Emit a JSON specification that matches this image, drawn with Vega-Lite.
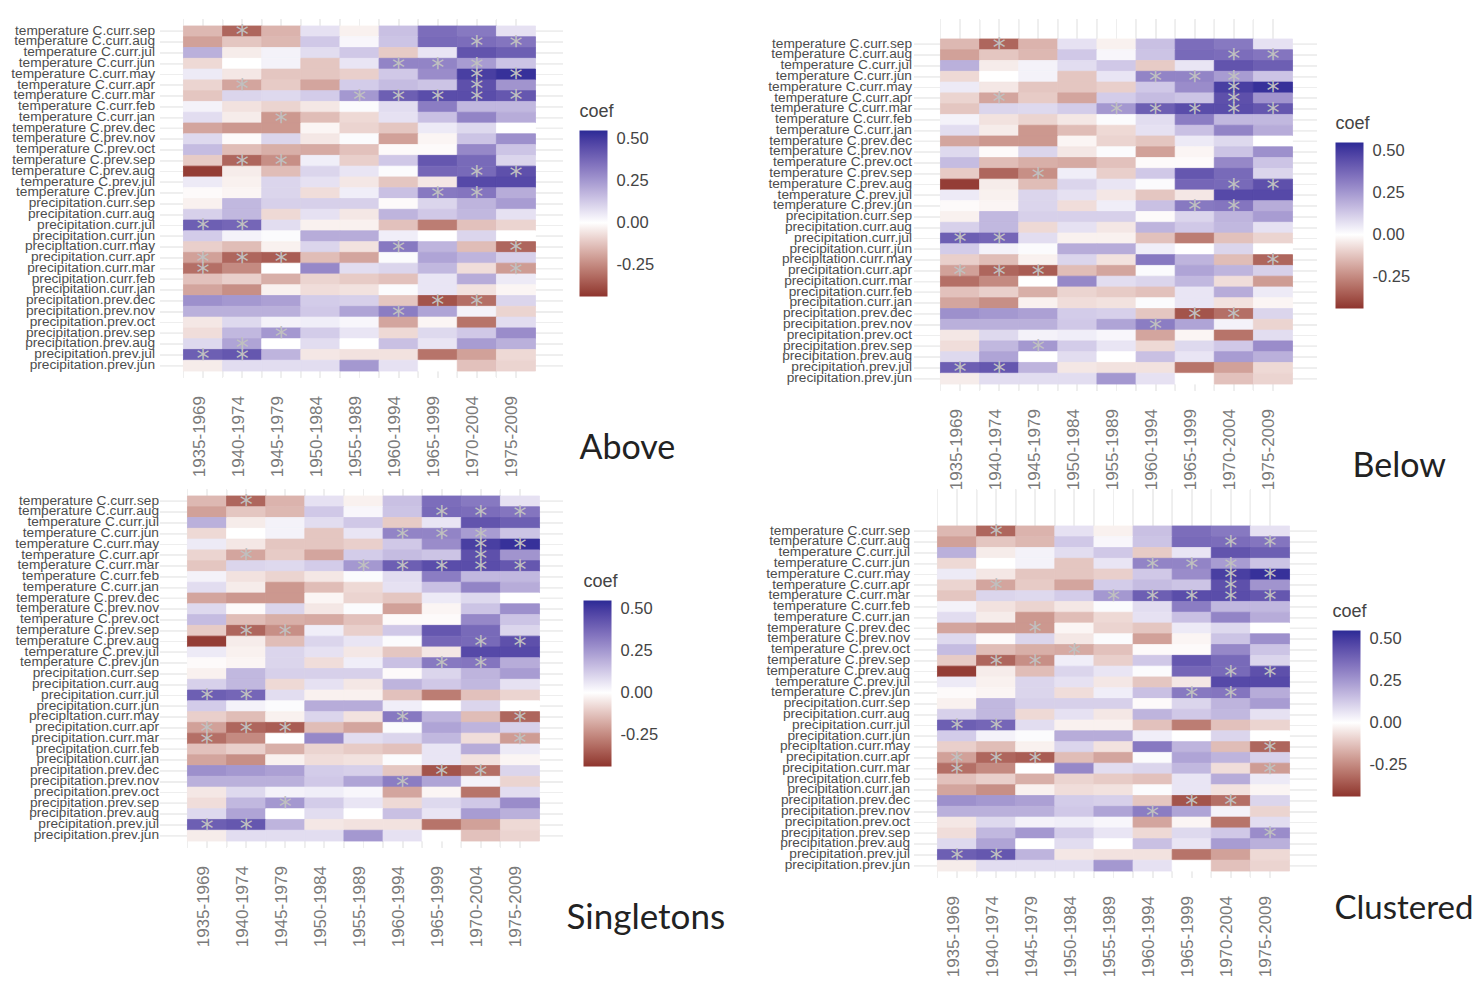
{"$schema":"https://vega.github.io/schema/vega-lite/v6.json","background":"white","padding":{"left":10,"top":18.5,"right":0,"bottom":0},"bounds":"flush","columns":2,"spacing":{"row":99,"column":351},"resolve":{"scale":{"color":"independent"}},
"config":{"view":{"stroke":null},"axis":{"title":null,"domain":false,"ticks":false,"grid":false,"labelFont":"Liberation Sans","labelOverlap":false,"labelBound":false,"labelLimit":300},"axisY":{"labelFontSize":13.7,"labelColor":"#4d4d4d","labelOffset":-0.7},"axisX":{"labelFontSize":17,"labelColor":"#7a7a7a","labelAngle":-90,"labelPadding":18,"labelOffset":-3.5},"legend":{"gradientLength":166,"gradientThickness":28,"gradientLabelOffset":9,"labelFont":"Liberation Sans","labelFontSize":16.5,"labelColor":"#444444","labelOffset":9,"titleFont":"Liberation Sans","titleFontSize":18,"titleFontWeight":"normal","titleColor":"#444444","titlePadding":10},"rule":{"color":"#eeeeee","strokeWidth":1},"title":{"font":"Lato","fontWeight":"normal","color":"#222222","orient":"bottom","anchor":"start","frame":"group","offset":0}},
"datasets":{"cells":[
{"x":"1935-1969","y":"temperature C.curr.sep","coef":-0.15},{"x":"1940-1974","y":"temperature C.curr.sep","coef":-0.33,"stars":"ABSC"},{"x":"1945-1979","y":"temperature C.curr.sep","coef":-0.16},{"x":"1950-1984","y":"temperature C.curr.sep","coef":0.07},{"x":"1955-1989","y":"temperature C.curr.sep","coef":-0.03},{"x":"1960-1994","y":"temperature C.curr.sep","coef":0.15},{"x":"1965-1999","y":"temperature C.curr.sep","coef":0.36},{"x":"1970-2004","y":"temperature C.curr.sep","coef":0.33},{"x":"1975-2009","y":"temperature C.curr.sep","coef":0.07},
{"x":"1935-1969","y":"temperature C.curr.aug","coef":-0.2},{"x":"1940-1974","y":"temperature C.curr.aug","coef":-0.12},{"x":"1945-1979","y":"temperature C.curr.aug","coef":-0.15},{"x":"1950-1984","y":"temperature C.curr.aug","coef":0.13},{"x":"1955-1989","y":"temperature C.curr.aug","coef":0.02},{"x":"1960-1994","y":"temperature C.curr.aug","coef":0.14},{"x":"1965-1999","y":"temperature C.curr.aug","coef":0.37,"stars":"S"},{"x":"1970-2004","y":"temperature C.curr.aug","coef":0.36,"stars":"ABSC"},{"x":"1975-2009","y":"temperature C.curr.aug","coef":0.34,"stars":"ABSC"},
{"x":"1935-1969","y":"temperature C.curr.jul","coef":0.19},{"x":"1940-1974","y":"temperature C.curr.jul","coef":-0.04},{"x":"1945-1979","y":"temperature C.curr.jul","coef":0.03},{"x":"1950-1984","y":"temperature C.curr.jul","coef":0.08},{"x":"1955-1989","y":"temperature C.curr.jul","coef":0.13},{"x":"1960-1994","y":"temperature C.curr.jul","coef":-0.11},{"x":"1965-1999","y":"temperature C.curr.jul","coef":0.06},{"x":"1970-2004","y":"temperature C.curr.jul","coef":0.43},{"x":"1975-2009","y":"temperature C.curr.jul","coef":0.4},
{"x":"1935-1969","y":"temperature C.curr.jun","coef":-0.08},{"x":"1940-1974","y":"temperature C.curr.jun","coef":0},{"x":"1945-1979","y":"temperature C.curr.jun","coef":0.03},{"x":"1950-1984","y":"temperature C.curr.jun","coef":-0.12},{"x":"1955-1989","y":"temperature C.curr.jun","coef":0.06},{"x":"1960-1994","y":"temperature C.curr.jun","coef":0.3,"stars":"ABSC"},{"x":"1965-1999","y":"temperature C.curr.jun","coef":0.3,"stars":"ABSC"},{"x":"1970-2004","y":"temperature C.curr.jun","coef":0.24,"stars":"ABSC"},{"x":"1975-2009","y":"temperature C.curr.jun","coef":0.14},
{"x":"1935-1969","y":"temperature C.curr.may","coef":0.05},{"x":"1940-1974","y":"temperature C.curr.may","coef":-0.05},{"x":"1945-1979","y":"temperature C.curr.may","coef":-0.12},{"x":"1950-1984","y":"temperature C.curr.may","coef":-0.12},{"x":"1955-1989","y":"temperature C.curr.may","coef":-0.1},{"x":"1960-1994","y":"temperature C.curr.may","coef":0.13},{"x":"1965-1999","y":"temperature C.curr.may","coef":0.28},{"x":"1970-2004","y":"temperature C.curr.may","coef":0.49,"stars":"ABSC"},{"x":"1975-2009","y":"temperature C.curr.may","coef":0.53,"stars":"ABSC"},
{"x":"1935-1969","y":"temperature C.curr.apr","coef":-0.09},{"x":"1940-1974","y":"temperature C.curr.apr","coef":-0.19,"stars":"ABSC"},{"x":"1945-1979","y":"temperature C.curr.apr","coef":-0.11},{"x":"1950-1984","y":"temperature C.curr.apr","coef":-0.19},{"x":"1955-1989","y":"temperature C.curr.apr","coef":0.12},{"x":"1960-1994","y":"temperature C.curr.apr","coef":0.16},{"x":"1965-1999","y":"temperature C.curr.apr","coef":0.14},{"x":"1970-2004","y":"temperature C.curr.apr","coef":0.44,"stars":"ABSC"},{"x":"1975-2009","y":"temperature C.curr.apr","coef":0.26},
{"x":"1935-1969","y":"temperature C.curr.mar","coef":-0.12},{"x":"1940-1974","y":"temperature C.curr.mar","coef":0.1},{"x":"1945-1979","y":"temperature C.curr.mar","coef":0.09},{"x":"1950-1984","y":"temperature C.curr.mar","coef":0.12},{"x":"1955-1989","y":"temperature C.curr.mar","coef":0.25,"stars":"ABSC"},{"x":"1960-1994","y":"temperature C.curr.mar","coef":0.4,"stars":"ABSC"},{"x":"1965-1999","y":"temperature C.curr.mar","coef":0.45,"stars":"ABSC"},{"x":"1970-2004","y":"temperature C.curr.mar","coef":0.45,"stars":"ABSC"},{"x":"1975-2009","y":"temperature C.curr.mar","coef":0.42,"stars":"ABSC"},
{"x":"1935-1969","y":"temperature C.curr.feb","coef":0.03},{"x":"1940-1974","y":"temperature C.curr.feb","coef":-0.06},{"x":"1945-1979","y":"temperature C.curr.feb","coef":-0.09},{"x":"1950-1984","y":"temperature C.curr.feb","coef":-0.05},{"x":"1955-1989","y":"temperature C.curr.feb","coef":0.01},{"x":"1960-1994","y":"temperature C.curr.feb","coef":0.08},{"x":"1965-1999","y":"temperature C.curr.feb","coef":0.32},{"x":"1970-2004","y":"temperature C.curr.feb","coef":0.17},{"x":"1975-2009","y":"temperature C.curr.feb","coef":0.17},
{"x":"1935-1969","y":"temperature C.curr.jan","coef":0.08},{"x":"1940-1974","y":"temperature C.curr.jan","coef":-0.04},{"x":"1945-1979","y":"temperature C.curr.jan","coef":-0.22,"stars":"A"},{"x":"1950-1984","y":"temperature C.curr.jan","coef":-0.14},{"x":"1955-1989","y":"temperature C.curr.jan","coef":-0.08},{"x":"1960-1994","y":"temperature C.curr.jan","coef":0.07},{"x":"1965-1999","y":"temperature C.curr.jan","coef":0.15},{"x":"1970-2004","y":"temperature C.curr.jan","coef":0.3},{"x":"1975-2009","y":"temperature C.curr.jan","coef":0.2},
{"x":"1935-1969","y":"temperature C.prev.dec","coef":-0.19},{"x":"1940-1974","y":"temperature C.prev.dec","coef":-0.22},{"x":"1945-1979","y":"temperature C.prev.dec","coef":-0.22,"stars":"C"},{"x":"1950-1984","y":"temperature C.prev.dec","coef":-0.02},{"x":"1955-1989","y":"temperature C.prev.dec","coef":-0.09},{"x":"1960-1994","y":"temperature C.prev.dec","coef":-0.12},{"x":"1965-1999","y":"temperature C.prev.dec","coef":0.05},{"x":"1970-2004","y":"temperature C.prev.dec","coef":0.09},{"x":"1975-2009","y":"temperature C.prev.dec","coef":0},
{"x":"1935-1969","y":"temperature C.prev.nov","coef":0.09},{"x":"1940-1974","y":"temperature C.prev.nov","coef":-0.01},{"x":"1945-1979","y":"temperature C.prev.nov","coef":0.1},{"x":"1950-1984","y":"temperature C.prev.nov","coef":-0.05},{"x":"1955-1989","y":"temperature C.prev.nov","coef":0.01},{"x":"1960-1994","y":"temperature C.prev.nov","coef":-0.2},{"x":"1965-1999","y":"temperature C.prev.nov","coef":-0.02},{"x":"1970-2004","y":"temperature C.prev.nov","coef":0.14},{"x":"1975-2009","y":"temperature C.prev.nov","coef":0.27},
{"x":"1935-1969","y":"temperature C.prev.oct","coef":0.16},{"x":"1940-1974","y":"temperature C.prev.oct","coef":-0.14},{"x":"1945-1979","y":"temperature C.prev.oct","coef":-0.17},{"x":"1950-1984","y":"temperature C.prev.oct","coef":-0.18,"stars":"C"},{"x":"1955-1989","y":"temperature C.prev.oct","coef":-0.13},{"x":"1960-1994","y":"temperature C.prev.oct","coef":-0.01},{"x":"1965-1999","y":"temperature C.prev.oct","coef":-0.01},{"x":"1970-2004","y":"temperature C.prev.oct","coef":0.29},{"x":"1975-2009","y":"temperature C.prev.oct","coef":0.14},
{"x":"1935-1969","y":"temperature C.prev.sep","coef":-0.11},{"x":"1940-1974","y":"temperature C.prev.sep","coef":-0.33,"stars":"ASC"},{"x":"1945-1979","y":"temperature C.prev.sep","coef":-0.24,"stars":"ABSC"},{"x":"1950-1984","y":"temperature C.prev.sep","coef":0.04},{"x":"1955-1989","y":"temperature C.prev.sep","coef":-0.1},{"x":"1960-1994","y":"temperature C.prev.sep","coef":0.13},{"x":"1965-1999","y":"temperature C.prev.sep","coef":0.42},{"x":"1970-2004","y":"temperature C.prev.sep","coef":0.37},{"x":"1975-2009","y":"temperature C.prev.sep","coef":0.1},
{"x":"1935-1969","y":"temperature C.prev.aug","coef":-0.42},{"x":"1940-1974","y":"temperature C.prev.aug","coef":-0.04},{"x":"1945-1979","y":"temperature C.prev.aug","coef":-0.14},{"x":"1950-1984","y":"temperature C.prev.aug","coef":0.1},{"x":"1955-1989","y":"temperature C.prev.aug","coef":0.06},{"x":"1960-1994","y":"temperature C.prev.aug","coef":0.01},{"x":"1965-1999","y":"temperature C.prev.aug","coef":0.38},{"x":"1970-2004","y":"temperature C.prev.aug","coef":0.37,"stars":"ABSC"},{"x":"1975-2009","y":"temperature C.prev.aug","coef":0.44,"stars":"ABSC"},
{"x":"1935-1969","y":"temperature C.prev.jul","coef":0.05},{"x":"1940-1974","y":"temperature C.prev.jul","coef":-0.03},{"x":"1945-1979","y":"temperature C.prev.jul","coef":0.1},{"x":"1950-1984","y":"temperature C.prev.jul","coef":0.07},{"x":"1955-1989","y":"temperature C.prev.jul","coef":-0.05},{"x":"1960-1994","y":"temperature C.prev.jul","coef":-0.12},{"x":"1965-1999","y":"temperature C.prev.jul","coef":-0.05},{"x":"1970-2004","y":"temperature C.prev.jul","coef":0.46},{"x":"1975-2009","y":"temperature C.prev.jul","coef":0.46},
{"x":"1935-1969","y":"temperature C.prev.jun","coef":-0.01},{"x":"1940-1974","y":"temperature C.prev.jun","coef":-0.02},{"x":"1945-1979","y":"temperature C.prev.jun","coef":0.1},{"x":"1950-1984","y":"temperature C.prev.jun","coef":-0.07},{"x":"1955-1989","y":"temperature C.prev.jun","coef":0.04},{"x":"1960-1994","y":"temperature C.prev.jun","coef":0.15},{"x":"1965-1999","y":"temperature C.prev.jun","coef":0.33,"stars":"ABSC"},{"x":"1970-2004","y":"temperature C.prev.jun","coef":0.34,"stars":"ABSC"},{"x":"1975-2009","y":"temperature C.prev.jun","coef":0.2},
{"x":"1935-1969","y":"precipitation.curr.sep","coef":-0.03},{"x":"1940-1974","y":"precipitation.curr.sep","coef":0.17},{"x":"1945-1979","y":"precipitation.curr.sep","coef":0.11},{"x":"1950-1984","y":"precipitation.curr.sep","coef":0.11},{"x":"1955-1989","y":"precipitation.curr.sep","coef":0.11},{"x":"1960-1994","y":"precipitation.curr.sep","coef":-0.01},{"x":"1965-1999","y":"precipitation.curr.sep","coef":0.1},{"x":"1970-2004","y":"precipitation.curr.sep","coef":0.18},{"x":"1975-2009","y":"precipitation.curr.sep","coef":0.24},
{"x":"1935-1969","y":"precipitation.curr.aug","coef":0.11},{"x":"1940-1974","y":"precipitation.curr.aug","coef":0.17},{"x":"1945-1979","y":"precipitation.curr.aug","coef":-0.08},{"x":"1950-1984","y":"precipitation.curr.aug","coef":0.07},{"x":"1955-1989","y":"precipitation.curr.aug","coef":-0.05},{"x":"1960-1994","y":"precipitation.curr.aug","coef":0.18},{"x":"1965-1999","y":"precipitation.curr.aug","coef":0.13},{"x":"1970-2004","y":"precipitation.curr.aug","coef":0.17},{"x":"1975-2009","y":"precipitation.curr.aug","coef":0.07},
{"x":"1935-1969","y":"precipitation.curr.jul","coef":0.4,"stars":"ABSC"},{"x":"1940-1974","y":"precipitation.curr.jul","coef":0.38,"stars":"ABSC"},{"x":"1945-1979","y":"precipitation.curr.jul","coef":0.08},{"x":"1950-1984","y":"precipitation.curr.jul","coef":-0.03},{"x":"1955-1989","y":"precipitation.curr.jul","coef":-0.03},{"x":"1960-1994","y":"precipitation.curr.jul","coef":-0.13},{"x":"1965-1999","y":"precipitation.curr.jul","coef":-0.28},{"x":"1970-2004","y":"precipitation.curr.jul","coef":-0.13},{"x":"1975-2009","y":"precipitation.curr.jul","coef":-0.09},
{"x":"1935-1969","y":"precipitation.curr.jun","coef":0.12},{"x":"1940-1974","y":"precipitation.curr.jun","coef":0.03},{"x":"1945-1979","y":"precipitation.curr.jun","coef":0.01},{"x":"1950-1984","y":"precipitation.curr.jun","coef":0.2},{"x":"1955-1989","y":"precipitation.curr.jun","coef":0.2},{"x":"1960-1994","y":"precipitation.curr.jun","coef":0.04},{"x":"1965-1999","y":"precipitation.curr.jun","coef":0},{"x":"1970-2004","y":"precipitation.curr.jun","coef":0.1},{"x":"1975-2009","y":"precipitation.curr.jun","coef":0},
{"x":"1935-1969","y":"precipitation.curr.may","coef":-0.1},{"x":"1940-1974","y":"precipitation.curr.may","coef":-0.14},{"x":"1945-1979","y":"precipitation.curr.may","coef":-0.03},{"x":"1950-1984","y":"precipitation.curr.may","coef":0.1},{"x":"1955-1989","y":"precipitation.curr.may","coef":-0.06},{"x":"1960-1994","y":"precipitation.curr.may","coef":0.33,"stars":"AS"},{"x":"1965-1999","y":"precipitation.curr.may","coef":0.18},{"x":"1970-2004","y":"precipitation.curr.may","coef":-0.14},{"x":"1975-2009","y":"precipitation.curr.may","coef":-0.33,"stars":"ABSC"},
{"x":"1935-1969","y":"precipitation.curr.apr","coef":-0.2,"stars":"ABSC"},{"x":"1940-1974","y":"precipitation.curr.apr","coef":-0.33,"stars":"ABSC"},{"x":"1945-1979","y":"precipitation.curr.apr","coef":-0.35,"stars":"ABSC"},{"x":"1950-1984","y":"precipitation.curr.apr","coef":-0.14},{"x":"1955-1989","y":"precipitation.curr.apr","coef":-0.19},{"x":"1960-1994","y":"precipitation.curr.apr","coef":0.01},{"x":"1965-1999","y":"precipitation.curr.apr","coef":0.22},{"x":"1970-2004","y":"precipitation.curr.apr","coef":0.18},{"x":"1975-2009","y":"precipitation.curr.apr","coef":0.11},
{"x":"1935-1969","y":"precipitation.curr.mar","coef":-0.31,"stars":"ASC"},{"x":"1940-1974","y":"precipitation.curr.mar","coef":-0.25},{"x":"1945-1979","y":"precipitation.curr.mar","coef":0},{"x":"1950-1984","y":"precipitation.curr.mar","coef":0.29},{"x":"1955-1989","y":"precipitation.curr.mar","coef":0.08},{"x":"1960-1994","y":"precipitation.curr.mar","coef":0.1},{"x":"1965-1999","y":"precipitation.curr.mar","coef":0.17},{"x":"1970-2004","y":"precipitation.curr.mar","coef":-0.07},{"x":"1975-2009","y":"precipitation.curr.mar","coef":-0.21,"stars":"ASC"},
{"x":"1935-1969","y":"precipitation.curr.feb","coef":-0.13},{"x":"1940-1974","y":"precipitation.curr.feb","coef":-0.1},{"x":"1945-1979","y":"precipitation.curr.feb","coef":-0.17},{"x":"1950-1984","y":"precipitation.curr.feb","coef":-0.09},{"x":"1955-1989","y":"precipitation.curr.feb","coef":-0.11},{"x":"1960-1994","y":"precipitation.curr.feb","coef":-0.13},{"x":"1965-1999","y":"precipitation.curr.feb","coef":0.06},{"x":"1970-2004","y":"precipitation.curr.feb","coef":0.2},{"x":"1975-2009","y":"precipitation.curr.feb","coef":0.05},
{"x":"1935-1969","y":"precipitation.curr.jan","coef":-0.19},{"x":"1940-1974","y":"precipitation.curr.jan","coef":-0.24},{"x":"1945-1979","y":"precipitation.curr.jan","coef":-0.03},{"x":"1950-1984","y":"precipitation.curr.jan","coef":-0.07},{"x":"1955-1989","y":"precipitation.curr.jan","coef":-0.06},{"x":"1960-1994","y":"precipitation.curr.jan","coef":0.01},{"x":"1965-1999","y":"precipitation.curr.jan","coef":0.06},{"x":"1970-2004","y":"precipitation.curr.jan","coef":-0.06},{"x":"1975-2009","y":"precipitation.curr.jan","coef":-0.02},
{"x":"1935-1969","y":"precipitation.prev.dec","coef":0.27},{"x":"1940-1974","y":"precipitation.prev.dec","coef":0.25},{"x":"1945-1979","y":"precipitation.prev.dec","coef":0.23},{"x":"1950-1984","y":"precipitation.prev.dec","coef":0.12},{"x":"1955-1989","y":"precipitation.prev.dec","coef":0.11},{"x":"1960-1994","y":"precipitation.prev.dec","coef":-0.12},{"x":"1965-1999","y":"precipitation.prev.dec","coef":-0.37,"stars":"ABSC"},{"x":"1970-2004","y":"precipitation.prev.dec","coef":-0.31,"stars":"ABSC"},{"x":"1975-2009","y":"precipitation.prev.dec","coef":0.1},
{"x":"1935-1969","y":"precipitation.prev.nov","coef":0.19},{"x":"1940-1974","y":"precipitation.prev.nov","coef":0.19},{"x":"1945-1979","y":"precipitation.prev.nov","coef":0.19},{"x":"1950-1984","y":"precipitation.prev.nov","coef":0.13},{"x":"1955-1989","y":"precipitation.prev.nov","coef":0.22},{"x":"1960-1994","y":"precipitation.prev.nov","coef":0.32,"stars":"ABSC"},{"x":"1965-1999","y":"precipitation.prev.nov","coef":0.22},{"x":"1970-2004","y":"precipitation.prev.nov","coef":0.03},{"x":"1975-2009","y":"precipitation.prev.nov","coef":-0.09},
{"x":"1935-1969","y":"precipitation.prev.oct","coef":-0.05},{"x":"1940-1974","y":"precipitation.prev.oct","coef":0.09},{"x":"1945-1979","y":"precipitation.prev.oct","coef":0.03},{"x":"1950-1984","y":"precipitation.prev.oct","coef":0.04},{"x":"1955-1989","y":"precipitation.prev.oct","coef":0.02},{"x":"1960-1994","y":"precipitation.prev.oct","coef":-0.19},{"x":"1965-1999","y":"precipitation.prev.oct","coef":-0.02},{"x":"1970-2004","y":"precipitation.prev.oct","coef":-0.3},{"x":"1975-2009","y":"precipitation.prev.oct","coef":0.08},
{"x":"1935-1969","y":"precipitation.prev.sep","coef":-0.07},{"x":"1940-1974","y":"precipitation.prev.sep","coef":0.17},{"x":"1945-1979","y":"precipitation.prev.sep","coef":0.25,"stars":"ABS"},{"x":"1950-1984","y":"precipitation.prev.sep","coef":0.12},{"x":"1955-1989","y":"precipitation.prev.sep","coef":0.06},{"x":"1960-1994","y":"precipitation.prev.sep","coef":-0.08},{"x":"1965-1999","y":"precipitation.prev.sep","coef":0.09},{"x":"1970-2004","y":"precipitation.prev.sep","coef":0.13},{"x":"1975-2009","y":"precipitation.prev.sep","coef":0.28,"stars":"C"},
{"x":"1935-1969","y":"precipitation.prev.aug","coef":0.09},{"x":"1940-1974","y":"precipitation.prev.aug","coef":0.22,"stars":"A"},{"x":"1945-1979","y":"precipitation.prev.aug","coef":0},{"x":"1950-1984","y":"precipitation.prev.aug","coef":0.08},{"x":"1955-1989","y":"precipitation.prev.aug","coef":0},{"x":"1960-1994","y":"precipitation.prev.aug","coef":0.15},{"x":"1965-1999","y":"precipitation.prev.aug","coef":0.06},{"x":"1970-2004","y":"precipitation.prev.aug","coef":0.24},{"x":"1975-2009","y":"precipitation.prev.aug","coef":0.19},
{"x":"1935-1969","y":"precipitation.prev.jul","coef":0.4,"stars":"ABSC"},{"x":"1940-1974","y":"precipitation.prev.jul","coef":0.42,"stars":"ABSC"},{"x":"1945-1979","y":"precipitation.prev.jul","coef":0.18},{"x":"1950-1984","y":"precipitation.prev.jul","coef":-0.05},{"x":"1955-1989","y":"precipitation.prev.jul","coef":-0.06},{"x":"1960-1994","y":"precipitation.prev.jul","coef":-0.06},{"x":"1965-1999","y":"precipitation.prev.jul","coef":-0.3},{"x":"1970-2004","y":"precipitation.prev.jul","coef":-0.2},{"x":"1975-2009","y":"precipitation.prev.jul","coef":-0.08},
{"x":"1935-1969","y":"precipitation.prev.jun","coef":-0.04},{"x":"1940-1974","y":"precipitation.prev.jun","coef":0.08},{"x":"1945-1979","y":"precipitation.prev.jun","coef":0.08},{"x":"1950-1984","y":"precipitation.prev.jun","coef":0.08},{"x":"1955-1989","y":"precipitation.prev.jun","coef":0.25},{"x":"1960-1994","y":"precipitation.prev.jun","coef":0.07},{"x":"1965-1999","y":"precipitation.prev.jun","coef":0},{"x":"1970-2004","y":"precipitation.prev.jun","coef":-0.13},{"x":"1975-2009","y":"precipitation.prev.jun","coef":-0.09}
]},
"concat":[
{"width":403,"height":358,"title":{"text":"Above","fontSize":34,"dx":419.5,"dy":-49},"data":{"name":"cells"},"layer":[
{"mark":{"type":"rule"},"encoding":{"x":{"field":"x","type":"nominal","sort":null}}},
{"mark":{"type":"rule"},"encoding":{"x":{"field":"x","type":"nominal","sort":null,"bandPosition":0}}},
{"mark":{"type":"rule"},"encoding":{"y":{"field":"y","type":"nominal","sort":null}}},
{"mark":{"type":"rect","strokeWidth":0.8},"encoding":{"x":{"field":"x","type":"nominal","sort":null,"scale":{"range":[0,399],"paddingInner":0,"paddingOuter":0.6}},"y":{"field":"y","type":"nominal","sort":null,"scale":{"range":[0,358],"paddingInner":0,"paddingOuter":0.6},"axis":{"labelPadding":5.5}},"color":{"field":"coef","type":"quantitative","scale":{"domain":[-0.44,0,0.55],"range":["#8e342e","#ffffff","#2c2a96"],"interpolate":"lab"},"legend":{"title":"coef","orient":"none","legendX":419.5,"legendY":83,"values":[0.5,0.25,0,-0.25],"labelExpr":"replace(format(datum.value,'.2f'),'−','-')"}},"stroke":{"field":"coef","type":"quantitative","scale":{"domain":[-0.44,0,0.55],"range":["#8e342e","#ffffff","#2c2a96"],"interpolate":"lab"},"legend":null}}},
{"mark":{"type":"text","font":"DejaVu Sans","fontSize":26,"color":"#c0c0c0","baseline":"middle","dy":5},"encoding":{"x":{"field":"x","type":"nominal","sort":null},"y":{"field":"y","type":"nominal","sort":null},"text":{"condition":{"test":"datum.stars && indexof(datum.stars,'A')>=0","value":"*"},"value":""}}}]},
{"width":403,"height":371,"title":{"text":"Below","fontSize":34,"dx":438.5,"dy":-44},"data":{"name":"cells"},"layer":[
{"mark":{"type":"rule"},"encoding":{"x":{"field":"x","type":"nominal","sort":null}}},
{"mark":{"type":"rule"},"encoding":{"x":{"field":"x","type":"nominal","sort":null,"bandPosition":0}}},
{"mark":{"type":"rule"},"encoding":{"y":{"field":"y","type":"nominal","sort":null}}},
{"mark":{"type":"rect","strokeWidth":0.8},"encoding":{"x":{"field":"x","type":"nominal","sort":null,"scale":{"range":[3,402],"paddingInner":0,"paddingOuter":0.6}},"y":{"field":"y","type":"nominal","sort":null,"scale":{"range":[13,371],"paddingInner":0,"paddingOuter":0.6},"axis":{"labelPadding":2.5}},"color":{"field":"coef","type":"quantitative","scale":{"domain":[-0.44,0,0.55],"range":["#8e342e","#ffffff","#2c2a96"],"interpolate":"lab"},"legend":{"title":"coef","orient":"none","legendX":421.5,"legendY":95,"values":[0.5,0.25,0,-0.25],"labelExpr":"replace(format(datum.value,'.2f'),'−','-')"}},"stroke":{"field":"coef","type":"quantitative","scale":{"domain":[-0.44,0,0.55],"range":["#8e342e","#ffffff","#2c2a96"],"interpolate":"lab"},"legend":null}}},
{"mark":{"type":"text","font":"DejaVu Sans","fontSize":26,"color":"#c0c0c0","baseline":"middle","dy":5},"encoding":{"x":{"field":"x","type":"nominal","sort":null},"y":{"field":"y","type":"nominal","sort":null},"text":{"condition":{"test":"datum.stars && indexof(datum.stars,'B')>=0","value":"*"},"value":""}}}]},
{"width":403,"height":358,"title":{"text":"Singletons","fontSize":35,"dx":406.5,"dy":-50},"data":{"name":"cells"},"layer":[
{"mark":{"type":"rule"},"encoding":{"x":{"field":"x","type":"nominal","sort":null}}},
{"mark":{"type":"rule"},"encoding":{"x":{"field":"x","type":"nominal","sort":null,"bandPosition":0}}},
{"mark":{"type":"rule"},"encoding":{"y":{"field":"y","type":"nominal","sort":null}}},
{"mark":{"type":"rect","strokeWidth":0.8},"encoding":{"x":{"field":"x","type":"nominal","sort":null,"scale":{"range":[4,403],"paddingInner":0,"paddingOuter":0.6}},"y":{"field":"y","type":"nominal","sort":null,"scale":{"range":[0,358],"paddingInner":0,"paddingOuter":0.6},"axis":{"labelPadding":5.5,"offset":-4}},"color":{"field":"coef","type":"quantitative","scale":{"domain":[-0.44,0,0.55],"range":["#8e342e","#ffffff","#2c2a96"],"interpolate":"lab"},"legend":{"title":"coef","orient":"none","legendX":423.5,"legendY":83,"values":[0.5,0.25,0,-0.25],"labelExpr":"replace(format(datum.value,'.2f'),'−','-')"}},"stroke":{"field":"coef","type":"quantitative","scale":{"domain":[-0.44,0,0.55],"range":["#8e342e","#ffffff","#2c2a96"],"interpolate":"lab"},"legend":null}}},
{"mark":{"type":"text","font":"DejaVu Sans","fontSize":26,"color":"#c0c0c0","baseline":"middle","dy":5},"encoding":{"x":{"field":"x","type":"nominal","sort":null},"y":{"field":"y","type":"nominal","sort":null},"text":{"condition":{"test":"datum.stars && indexof(datum.stars,'S')>=0","value":"*"},"value":""}}}]},
{"width":403,"height":388,"title":{"text":"Clustered","fontSize":33,"dx":420.5,"dy":-88},"data":{"name":"cells"},"layer":[
{"mark":{"type":"rule"},"encoding":{"x":{"field":"x","type":"nominal","sort":null}}},
{"mark":{"type":"rule"},"encoding":{"x":{"field":"x","type":"nominal","sort":null,"bandPosition":0}}},
{"mark":{"type":"rule"},"encoding":{"y":{"field":"y","type":"nominal","sort":null}}},
{"mark":{"type":"rect","strokeWidth":0.8},"encoding":{"x":{"field":"x","type":"nominal","sort":null,"scale":{"range":[0,399],"paddingInner":0,"paddingOuter":0.6}},"y":{"field":"y","type":"nominal","sort":null,"scale":{"range":[30,388],"paddingInner":0,"paddingOuter":0.6},"axis":{"labelPadding":4.5}},"color":{"field":"coef","type":"quantitative","scale":{"domain":[-0.44,0,0.55],"range":["#8e342e","#ffffff","#2c2a96"],"interpolate":"lab"},"legend":{"title":"coef","orient":"none","legendX":418.5,"legendY":113,"values":[0.5,0.25,0,-0.25],"labelExpr":"replace(format(datum.value,'.2f'),'−','-')"}},"stroke":{"field":"coef","type":"quantitative","scale":{"domain":[-0.44,0,0.55],"range":["#8e342e","#ffffff","#2c2a96"],"interpolate":"lab"},"legend":null}}},
{"mark":{"type":"text","font":"DejaVu Sans","fontSize":26,"color":"#c0c0c0","baseline":"middle","dy":5},"encoding":{"x":{"field":"x","type":"nominal","sort":null},"y":{"field":"y","type":"nominal","sort":null},"text":{"condition":{"test":"datum.stars && indexof(datum.stars,'C')>=0","value":"*"},"value":""}}}]}
]}
